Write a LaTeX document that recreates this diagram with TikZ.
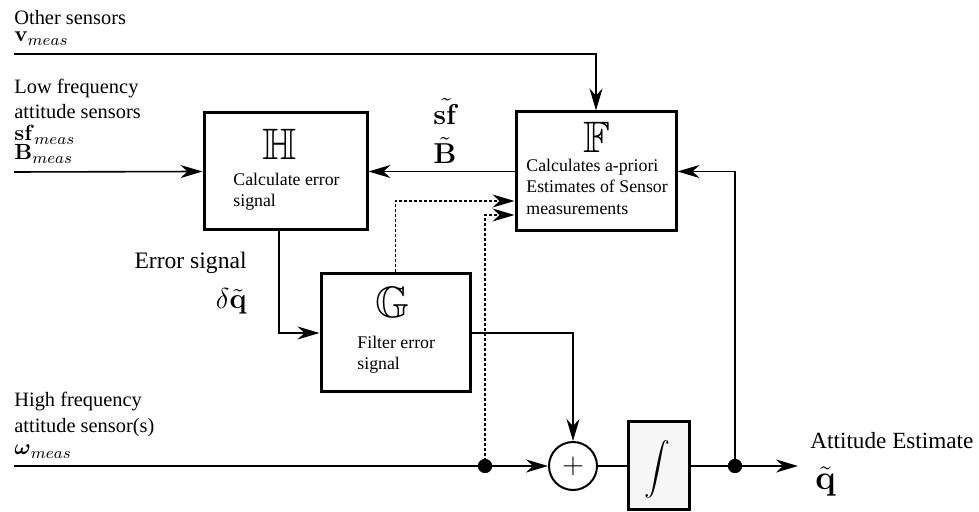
\documentclass[tikz,border=0pt]{standalone}
\usepackage{amsmath,amssymb}
\usepackage[no-math]{fontspec}
\setmainfont{Liberation Serif}
\usetikzlibrary{arrows.meta}
\begin{document}
\begin{tikzpicture}[x=0.5pt,y=-0.5pt,
  wire/.style={line width=0.8pt},
  arr/.style={-{Stealth[length=11pt,width=6.5pt,inset=3.5pt]}},
  dotline/.style={line width=0.7pt,dash pattern=on 1.5pt off 1pt},
  blk/.style={draw,line width=1.5pt,rectangle,inner sep=0pt,fill=white},
  lbl/.style={anchor=base west,inner sep=0pt,font=\fontsize{10.2}{12}\selectfont},
  mlbl/.style={anchor=base west,inner sep=0pt,font=\fontsize{11}{12}\selectfont},
  bigm/.style={anchor=base west,inner sep=0pt,font=\fontsize{13.5}{14}\selectfont},
  bb/.style={anchor=base,inner sep=0pt,font=\fontsize{22}{22}\selectfont},
  btxt/.style={anchor=base west,inner sep=0pt,font=\fontsize{8.9}{10}\selectfont},
  jdot/.style={circle,fill=black,inner sep=0pt,minimum size=7pt}
]
\useasboundingbox (0,0) rectangle (979,512);

% blocks
\node[blk,minimum width=81.5pt,minimum height=58.5pt] (H) at (285.5,171.5) {};
\node[blk,minimum width=80pt,minimum height=59.5pt] (F) at (596,171.5) {};
\node[blk,minimum width=74.5pt,minimum height=59pt] (G) at (395.5,333) {};
\node[blk,fill=gray!6,minimum width=30.5pt,minimum height=44pt] (I) at (658.5,466) {};
\node[draw,circle,line width=1pt,inner sep=0pt,minimum size=24pt,font=\fontsize{14}{14}\selectfont] (S) at (573,466) {$+$};

% block contents
\node[bb] (Hl) at (280,160) {$\mathbb{H}$};
\node[btxt] (Ht1) at (233,186) {Calculate error};
\node[btxt] (Ht2) at (233,207) {signal};
\node[bb] (Fl) at (597,153) {$\mathbb{F}$};
\node[btxt] (Ft1) at (526,172) {Calculates a-priori};
\node[btxt] (Ft2) at (526,193) {Estimates of Sensor};
\node[btxt] (Ft3) at (526,215) {measurements};
\node[bb] (Gl) at (393,318) {$\mathbb{G}$};
\node[btxt] (Gt1) at (357,349) {Filter error};
\node[btxt] (Gt2) at (357,370) {signal};
\node[inner sep=0pt,font=\fontsize{13}{13}\selectfont] (Il) at (657,469) {$\displaystyle\int$};

% left labels
\node[lbl] (t1) at (14,25) {Other sensors};
\node[mlbl] (t2) at (14,42) {$\mathbf{v}_{meas}$};
\node[lbl] (t3) at (14,94) {Low frequency};
\node[lbl] (t4) at (14,119) {attitude sensors};
\node[mlbl] (t5) at (14,141) {$\mathbf{sf}_{meas}$};
\node[mlbl] (t6) at (14,160) {$\mathbf{B}_{meas}$};
\node[lbl] (t7) at (14,407) {High frequency};
\node[lbl] (t8) at (14,433) {attitude sensor(s)};
\node[mlbl] (t9) at (14,455) {$\boldsymbol{\omega}_{meas}$};

% other labels
\node[bigm] (sfl) at (433,125) {$\tilde{\mathbf{sf}}$};
\node[bigm] (Bl) at (433,164) {$\tilde{\mathbf{B}}$};
\node[anchor=base east,inner sep=0pt,font=\fontsize{11.8}{13}\selectfont] (es) at (247,269) {Error signal};
\node[anchor=base east,inner sep=0pt,font=\fontsize{13.5}{14}\selectfont] (dq) at (247,309) {$\delta\tilde{\mathbf{q}}$};
\node[anchor=base west,inner sep=0pt,font=\fontsize{11.6}{13}\selectfont] (ae) at (810,449) {Attitude Estimate};
\node[anchor=base west,inner sep=0pt,font=\fontsize{16}{16}\selectfont] (qo) at (815,490) {$\tilde{\mathbf{q}}$};

% coordinates
\coordinate (vin) at (14,54);
\coordinate (lin) at (14,172);
\coordinate (win) at (14,466);
\coordinate (out) at (798,466);
\node[jdot] (J1) at (485,466) {};
\node[jdot] (J2) at (735,466) {};

% connectors
\draw[wire,arr] (vin) -| (F.north);
\draw[wire,arr] (lin) -- (H.west);
\draw[wire,arr] (F.west) -- (H.east);
\draw[wire,arr] ([xshift=-3.25pt]H.south) |- (G.west);
\draw[wire,arr] (G.east) -| (S.north);
\draw[dotline,arr] (G.north) |- ([yshift=-14.75pt]F.west);
\draw[dotline,arr] (J1.center) |- ([yshift=-21.75pt]F.west);
\draw[wire] (win) -- (J1.center);
\draw[wire,arr] (J1.center) -- (S.west);
\draw[wire] (S.east) -- (I.west);
\draw[wire] (I.east) -- (J2.center);
\draw[wire,arr] (J2.center) -- (out);
\draw[wire,arr] (J2.center) |- (F.east);
\node[jdot] at (J1) {};
\node[jdot] at (J2) {};
\end{tikzpicture}
\end{document}
